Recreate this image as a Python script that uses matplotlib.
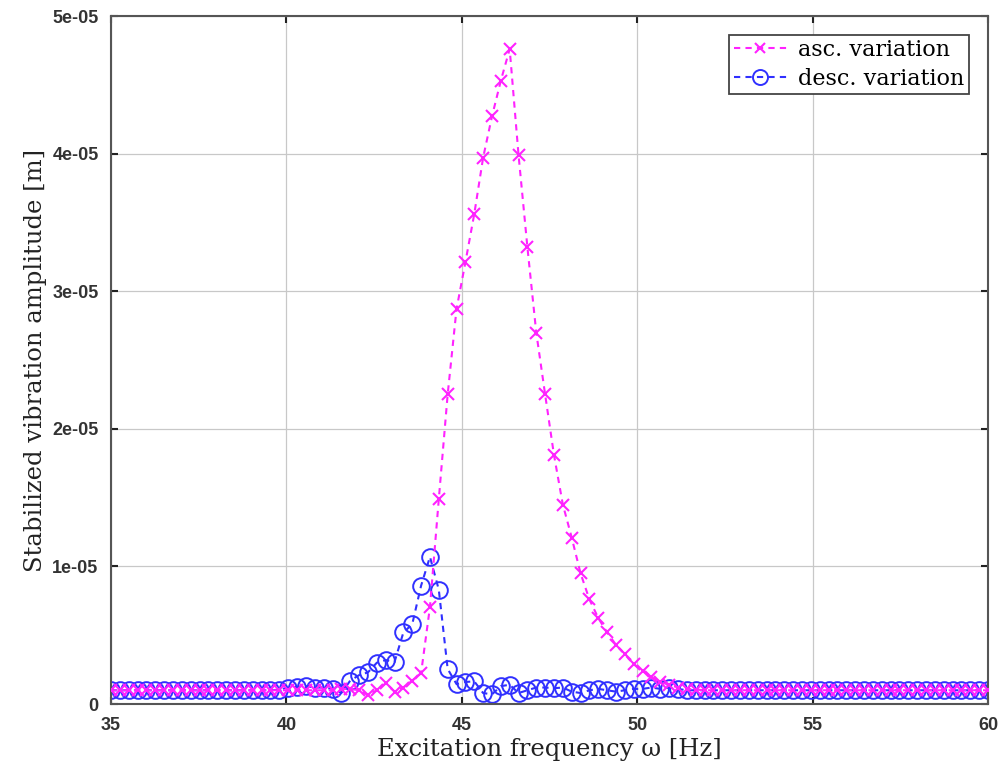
import numpy as np
import matplotlib
matplotlib.use("Agg")
import matplotlib.pyplot as plt
from matplotlib.ticker import FixedLocator, FixedFormatter

# Frequency grid (100 samples between 35 and 60 Hz)
freq = np.linspace(35, 60, 100)

# Amplitudes in units of 1e-06 m
asc_vals = [
    1.0, 1.0, 1.0, 1.0, 1.0, 1.0, 1.0, 1.0, 1.0, 1.0,
    1.0, 1.0, 1.0, 1.0, 1.0, 1.0, 1.0, 1.0, 1.0, 1.0,
    1.0, 1.0, 1.0, 1.0, 1.0, 1.0, 1.1, 1.1, 1.0, 0.65,
    1.0, 1.5, 0.9, 1.2, 1.7, 2.25, 7.05, 14.9, 22.5, 28.7,
    32.1, 35.6, 39.7, 42.7, 45.3, 47.6, 39.9, 33.2, 27.0, 22.5,
    18.1, 14.5, 12.1, 9.5, 7.6, 6.25, 5.2, 4.3, 3.6, 2.9,
    2.4, 2.0, 1.6, 1.4, 1.2, 1.1, 1.05, 1.0, 1.0, 1.0,
    1.0, 1.0, 1.0, 1.0, 1.0, 1.0, 1.0, 1.0, 1.0, 1.0,
    1.0, 1.0, 1.0, 1.0, 1.0, 1.0, 1.0, 1.0, 1.0, 1.0,
    1.0, 1.0, 1.0, 1.0, 1.0, 1.0, 1.0, 1.0, 1.0, 1.0,
]
desc_vals = [
    1.0, 1.0, 1.0, 1.0, 1.0, 1.0, 1.0, 1.0, 1.0, 1.0,
    1.0, 1.0, 1.0, 1.0, 1.0, 1.0, 1.0, 1.0, 1.0, 1.05,
    1.2, 1.25, 1.3, 1.2, 1.2, 1.1, 0.8, 1.7, 2.1, 2.3,
    3.0, 3.2, 3.05, 5.2, 5.8, 8.6, 10.7, 8.3, 2.55, 1.45,
    1.6, 1.65, 0.8, 0.7, 1.3, 1.4, 0.8, 1.0, 1.2, 1.2,
    1.15, 1.2, 0.9, 0.8, 1.0, 1.1, 1.0, 0.9, 1.0, 1.1,
    1.1, 1.2, 1.1, 1.2, 1.1, 1.0, 1.0, 1.0, 1.0, 1.0,
    1.0, 1.0, 1.0, 1.0, 1.0, 1.0, 1.0, 1.0, 1.0, 1.0,
    1.0, 1.0, 1.0, 1.0, 1.0, 1.0, 1.0, 1.0, 1.0, 1.0,
    1.0, 1.0, 1.0, 1.0, 1.0, 1.0, 1.0, 1.0, 1.0, 1.0,
]
asc = np.array(asc_vals) * 1e-6
desc = np.array(desc_vals) * 1e-6

x_ticks = [35, 40, 45, 50, 55, 60]
x_ticklabels = ["35", "40", "45", "50", "55", "60"]
y_ticks = [0, 1e-5, 2e-5, 3e-5, 4e-5, 5e-5]
y_ticklabels = ["0", "1e-05", "2e-05", "3e-05", "4e-05", "5e-05"]

fig = plt.figure(figsize=(10.03, 7.74), dpi=100)
ax = fig.add_axes([0.1107, 0.0904, 0.8744, 0.8889])

magenta = "#ff22ff"
blue = "#3030ff"

ax.plot(freq, asc, linestyle=(0, (3, 2.5)), color=magenta, lw=1.5,
        marker="x", markersize=8.5, markeredgewidth=1.5,
        label="asc. variation", zorder=3)
ax.plot(freq, desc, linestyle=(0, (3, 2.5)), color=blue, lw=1.5,
        marker="o", markersize=12, markerfacecolor="none",
        markeredgewidth=1.4, label="desc. variation", zorder=2)

ax.set_xlim(35, 60)
ax.set_ylim(0, 5e-5)
ax.xaxis.set_major_locator(FixedLocator(x_ticks))
ax.xaxis.set_major_formatter(FixedFormatter(x_ticklabels))
ax.yaxis.set_major_locator(FixedLocator(y_ticks))
ax.yaxis.set_major_formatter(FixedFormatter(y_ticklabels))

ax.grid(True, color="#c8c8c8", lw=0.9)
ax.set_axisbelow(True)
ax.tick_params(direction="in", length=5, width=1.5, top=True, right=True,
               color="#222222", pad=9)
for lab in ax.get_xticklabels() + ax.get_yticklabels():
    lab.set_fontfamily("Liberation Sans")
    lab.set_fontweight("bold")
    lab.set_fontsize(13)
    lab.set_color("#333333")
for sp in ax.spines.values():
    sp.set_color("#555555")
    sp.set_linewidth(1.5)

ax.set_xlabel("Excitation frequency ω [Hz]", fontfamily="DejaVu Serif",
              fontsize=17.5, color="#222222", labelpad=3)
ax.set_ylabel("Stabilized vibration amplitude [m]", fontfamily="DejaVu Serif",
              fontsize=17.5, color="#222222", labelpad=4)

leg = ax.legend(loc="upper right", bbox_to_anchor=(0.978, 0.973),
                prop={"family": "DejaVu Serif", "size": 16},
                fancybox=False, framealpha=1, edgecolor="#444444",
                borderpad=0.2, handlelength=2.4, handletextpad=0.5,
                labelspacing=0.3, borderaxespad=0, markerscale=0.9)
leg.get_frame().set_linewidth(1.3)

fig.savefig("out.png", dpi=100)
